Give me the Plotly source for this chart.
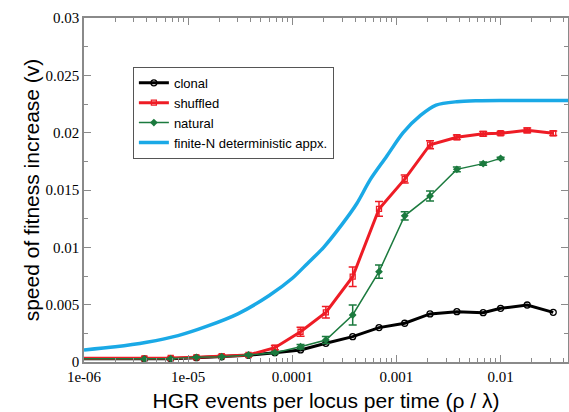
import plotly.graph_objects as go

# --- data ---
rho = [1e-7, 3.8e-6, 6.8e-6, 1.2e-5, 2.1e-5, 3.8e-5, 6.8e-5, 1.2e-4, 2.1e-4, 3.8e-4,
       6.8e-4, 1.2e-3, 2.1e-3, 3.8e-3, 6.8e-3, 1.0e-2, 1.8e-2, 3.2e-2]

clonal = [0.00026, 0.00026, 0.00029, 0.00038, 0.00045, 0.00058, 0.00081, 0.00105, 0.00163,
          0.00221, 0.00300, 0.00338, 0.00419, 0.00439, 0.00430, 0.00468, 0.00497, 0.00433]

shuffled = [0.00030, 0.00032, 0.00035, 0.00041, 0.00052, 0.00061, 0.00125, 0.00264, 0.00433,
            0.00744, 0.01335, 0.01595, 0.01895, 0.01960, 0.01990, 0.01995, 0.02020, 0.01995]
shuffled_err = [0.0, 0.00005, 0.00005, 0.00005, 0.00008, 0.0001, 0.00018, 0.0004, 0.0005,
                0.00085, 0.00065, 0.00035, 0.00035, 0.0002, 0.0002, 0.00015, 0.0002, 0.0002]

rho_nat = [1e-7, 3.8e-6, 6.8e-6, 1.2e-5, 2.1e-5, 3.8e-5, 6.8e-5, 1.2e-4, 2.1e-4, 3.8e-4,
           6.8e-4, 1.2e-3, 2.1e-3, 3.8e-3, 6.8e-3, 1.0e-2]
natural = [0.00026, 0.00026, 0.00029, 0.00041, 0.00046, 0.00061, 0.00081, 0.00133, 0.00192,
           0.00410, 0.00788, 0.01275, 0.01448, 0.01680, 0.01730, 0.01776]
natural_err = [0.0, 0.00004, 0.00004, 0.00004, 0.00005, 0.00008, 0.0001, 0.0002, 0.0003,
               0.00087, 0.00058, 0.00036, 0.00044, 0.0002, 0.00015, 0.0001]

rho_det = [1e-6, 2e-6, 4e-6, 8e-6, 1.5e-5, 3e-5, 6e-5, 1e-4, 1.4e-4, 2e-4, 3e-4, 4.15e-4,
           5.6e-4, 8e-4, 1.16e-3, 1.7e-3, 2.4e-3, 3.8e-3, 6e-3, 1e-2, 2e-2, 4.5e-2]
determ = [0.00105, 0.00132, 0.00172, 0.00230, 0.00310, 0.00420, 0.00580, 0.00730, 0.00860,
          0.01000, 0.01200, 0.01380, 0.01590, 0.01790, 0.02000, 0.02150, 0.02240, 0.02270,
          0.02278, 0.02280, 0.02280, 0.02280]

y_ticks = [0, 0.005, 0.01, 0.015, 0.02, 0.025, 0.03]
y_ticktext = ["0", "0.005", "0.01", "0.015", "0.02", "0.025", "0.03"]
x_ticks = [1e-6, 1e-5, 1e-4, 1e-3, 1e-2]
x_ticktext = ["1e-06", "1e-05", "0.0001", "0.001", "0.01"]

RED = "#ee1c25"
GREEN = "#1b7a3e"
BLUE = "#1aa9e6"
AX = "#8a8a8a"

fig = go.Figure()

fig.add_trace(go.Scatter(
    x=rho, y=clonal, name="clonal", mode="lines+markers",
    line=dict(color="black", width=3),
    marker=dict(symbol="circle-open", size=6, color="black", line=dict(width=1.3)),
))
fig.add_trace(go.Scatter(
    x=rho, y=shuffled, name="shuffled", mode="lines+markers",
    line=dict(color=RED, width=3),
    marker=dict(symbol="square-open", size=5, color=RED, line=dict(width=1.3)),
    error_y=dict(type="data", array=shuffled_err, color=RED, thickness=1.5, width=4),
))
fig.add_trace(go.Scatter(
    x=rho_nat, y=natural, name="natural", mode="lines+markers",
    line=dict(color=GREEN, width=1.5),
    marker=dict(symbol="diamond", size=6, color=GREEN),
    error_y=dict(type="data", array=natural_err, color=GREEN, thickness=1.5, width=4),
))
fig.add_trace(go.Scatter(
    x=rho_det, y=determ, name="finite-N deterministic appx.", mode="lines",
    line=dict(color=BLUE, width=3.5, shape="spline", smoothing=0.8),
))

minor_x = [m * 10.0 ** e for e in range(-6, -1) for m in range(2, 10)]
minor_y = [0.0025 + 0.005 * i for i in range(6)]

fig.update_layout(
    width=569, height=412,
    margin=dict(l=84, r=1, t=18, b=50),
    paper_bgcolor="white", plot_bgcolor="white",
    showlegend=True,
    legend=dict(
        x=0.101, y=0.858, xanchor="left", yanchor="top",
        bordercolor="#555555", borderwidth=1, bgcolor="white",
        font=dict(family="Liberation Sans, Arial, sans-serif", size=13, color="black"),
        itemwidth=30, tracegroupgap=0,
    ),
    font=dict(family="Liberation Serif, Times New Roman, serif", size=15, color="black"),
)

fig.update_xaxes(
    type="log", range=[-6, -1.353], automargin=False,
    tickmode="array", tickvals=x_ticks, ticktext=x_ticktext,
    ticks="inside", ticklen=7, tickwidth=1, tickcolor=AX,
    minor=dict(tickmode="array", tickvals=minor_x, ticks="inside", ticklen=4,
               tickcolor=AX, tickwidth=1, showgrid=False),
    showline=True, linecolor=AX, linewidth=1.5, mirror="allticks",
    showgrid=False, zeroline=False,
    tickfont=dict(family="Liberation Serif, Times New Roman, serif", size=15),
    title=dict(text="HGR events per locus per time (\u03c1 / \u03bb)", standoff=16,
               font=dict(family="Liberation Sans, Arial, sans-serif", size=21)),
)
fig.update_yaxes(
    range=[0, 0.03], automargin=False,
    tickmode="array", tickvals=y_ticks, ticktext=y_ticktext,
    ticks="inside", ticklen=7, tickwidth=1, tickcolor=AX,
    minor=dict(tickmode="array", tickvals=minor_y, ticks="inside", ticklen=4,
               tickcolor=AX, tickwidth=1, showgrid=False),
    showline=True, linecolor=AX, linewidth=1.5, mirror="allticks",
    showgrid=False, zeroline=False,
    tickfont=dict(family="Liberation Serif, Times New Roman, serif", size=15),
    title=dict(text="speed of fitness increase (v)", standoff=0,
               font=dict(family="Liberation Sans, Arial, sans-serif", size=21)),
)

fig.write_html("out.html", config={"displayModeBar": False},
               post_script="document.body.style.margin='0';")
